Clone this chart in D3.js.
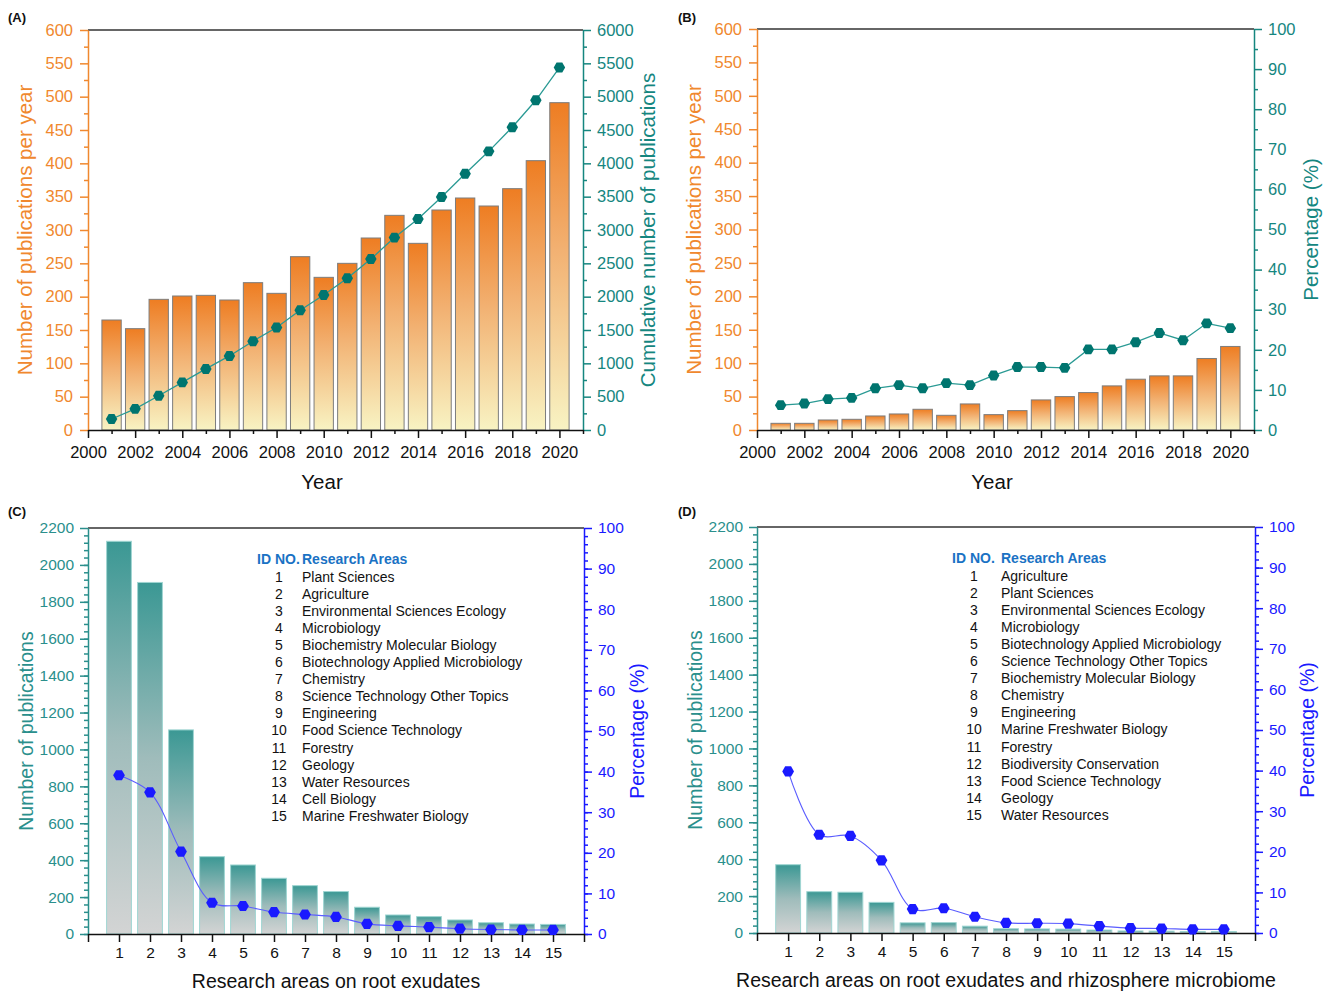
<!DOCTYPE html>
<html>
<head>
<meta charset="utf-8">
<script src="https://cdn.jsdelivr.net/npm/d3@7"></script>
<style>
  body { margin: 0; background: #fff; }
  svg text { font-family: "Liberation Sans", Arial, sans-serif; }
</style>
</head>
<body>
<svg id="chart" width="1333" height="992"></svg>
<script>
// ---- data ----
const years = [2001, 2002, 2003, 2004, 2005, 2006, 2007, 2008, 2009, 2010,
               2011, 2012, 2013, 2014, 2015, 2016, 2017, 2018, 2019, 2020];
const yearTicks = [2000, 2002, 2004, 2006, 2008, 2010, 2012, 2014, 2016, 2018, 2020];

// (A) root exudates
const pubsPerYear = [165, 152, 196, 201, 202, 195, 221, 205, 260, 229,
                     250, 288, 322, 280, 330, 348, 336, 362, 404, 491];
const cumulativePubs = [165, 317, 513, 714, 916, 1111, 1332, 1537, 1797, 2026,
                        2276, 2564, 2886, 3166, 3496, 3844, 4180, 4542, 4946, 5437];

// (B) root exudates + rhizosphere microbiome
const rhizoPerYear = [10, 10, 15, 16, 21, 24, 31, 22, 39, 23,
                      29, 45, 50, 56, 66, 76, 81, 81, 107, 125];
const rhizoPct = [6.2, 6.6, 7.7, 8.0, 10.4, 11.2, 10.4, 11.7, 11.2, 13.6,
                  15.7, 15.7, 15.5, 20.1, 20.1, 21.9, 24.2, 22.4, 26.6, 25.4];

// (C) research areas on root exudates
const areaIds = [1, 2, 3, 4, 5, 6, 7, 8, 9, 10, 11, 12, 13, 14, 15];
const areasC = ["Plant Sciences", "Agriculture", "Environmental Sciences Ecology", "Microbiology",
  "Biochemistry Molecular Biology", "Biotechnology Applied Microbiology", "Chemistry",
  "Science Technology Other Topics", "Engineering", "Food Science Technology", "Forestry",
  "Geology", "Water Resources", "Cell Biology", "Marine Freshwater Biology"];
const countsC = [2128, 1905, 1106, 419, 374, 302, 262, 230, 145, 103, 94, 76, 61, 54, 52];
const pctC = [39.1, 34.9, 20.3, 7.7, 6.9, 5.4, 4.8, 4.2, 2.5, 2.0, 1.7, 1.3, 1.1, 1.0, 1.0];

// (D) research areas on root exudates and rhizosphere microbiome
const areasD = ["Agriculture", "Plant Sciences", "Environmental Sciences Ecology", "Microbiology",
  "Biotechnology Applied Microbiology", "Science Technology Other Topics",
  "Biochemistry Molecular Biology", "Chemistry", "Engineering", "Marine Freshwater Biology",
  "Forestry", "Biodiversity Conservation", "Food Science Technology", "Geology", "Water Resources"];
const countsD = [370, 224, 221, 166, 55, 56, 37, 23, 22, 21, 16, 11, 10, 8, 8];
const pctD = [39.8, 24.2, 23.9, 17.9, 5.9, 6.1, 4.0, 2.5, 2.4, 2.3, 1.7, 1.2, 1.1, 0.9, 0.9];

// ---- setup ----
const svg = d3.select("#chart");
const FONT = '"Liberation Sans", Arial, sans-serif';
const ORANGE = "#f0882e", TEAL = "#15867f", TEAL2 = "#2a8f8c", BLUE = "#1a1aff";
const fmt = d3.format("d");

const defs = svg.append("defs");
function gradient(id, stops) {
  const g = defs.append("linearGradient").attr("id", id)
    .attr("x1", 0).attr("y1", 0).attr("x2", 0).attr("y2", 1);
  stops.forEach(s => g.append("stop").attr("offset", s[0]).attr("stop-color", s[1]));
}
gradient("gOrange", [[0, "#ee7d22"], [0.45, "#f2b172"], [1, "#f8f3c3"]]);
gradient("gTeal", [[0, "#3b9894"], [0.5, "#9fbcbb"], [1, "#d3d4d4"]]);

// hexagon marker as a custom d3 symbol type
const hexagon = {
  draw(ctx, size) {
    const r = Math.sqrt(size / (1.5 * Math.sqrt(3)));
    for (let i = 0; i < 6; i++) {
      const a = Math.PI / 3 * i;
      if (i === 0) ctx.moveTo(r * Math.cos(a), r * Math.sin(a));
      else ctx.lineTo(r * Math.cos(a), r * Math.sin(a));
    }
    ctx.closePath();
  }
};

function drawAxis(gen, minorGen, transform, color, fontSize) {
  const g = svg.append("g").attr("transform", transform);
  if (minorGen) {
    const m = svg.append("g").attr("transform", transform).call(minorGen);
    m.select(".domain").remove();
    m.selectAll("line").attr("stroke", color).attr("stroke-width", 1.5);
  }
  g.call(gen);
  g.attr("font-family", FONT).attr("font-size", fontSize).style("color", color);
  g.select(".domain").attr("stroke-width", 1.5);
  g.selectAll(".tick line").attr("stroke-width", 1.5);
  return g;
}

function yTitle(x, y, text, color, size) {
  svg.append("text").attr("transform", `translate(${x},${y}) rotate(-90)`)
    .attr("text-anchor", "middle").attr("fill", color).attr("font-size", size).text(text);
}

function panelLabel(x, y, t) {
  svg.append("text").attr("x", x).attr("y", y).attr("font-size", 13)
    .attr("font-weight", "bold").attr("fill", "#111").text(t);
}

// ---- year panels (A, B) ----
function yearPanel(o) {
  const x = d3.scaleLinear().domain([2000, 2021]).range([o.x0, o.x1]);
  const yL = d3.scaleLinear().domain([0, 600]).range([o.y1, o.y0]);
  const yR = d3.scaleLinear().domain([0, o.rMax]).range([o.y1, o.y0]);
  const bw = (x(1) - x(0)) * 0.82;

  svg.append("g").selectAll("rect").data(o.bars).join("rect")
    .attr("x", (d, i) => x(years[i]) - bw / 2)
    .attr("y", d => yL(d))
    .attr("width", bw)
    .attr("height", d => yL(0) - yL(d))
    .attr("fill", "url(#gOrange)")
    .attr("stroke", "#7d7d7d").attr("stroke-width", 1);

  // top frame
  svg.append("line").attr("x1", o.x0).attr("x2", o.x1).attr("y1", o.y0).attr("y2", o.y0)
    .attr("stroke", "#333").attr("stroke-width", 1.5);

  drawAxis(d3.axisLeft(yL).tickValues(d3.range(0, 601, 50)).tickSize(8).tickSizeOuter(0).tickPadding(7).tickFormat(fmt),
    d3.axisLeft(yL).tickValues(d3.range(25, 600, 50)).tickSize(4).tickFormat(""),
    `translate(${o.x0},0)`, ORANGE, 16.5);
  drawAxis(d3.axisRight(yR).tickValues(d3.range(0, o.rMax + 1, o.rMajor)).tickSize(8).tickSizeOuter(0).tickPadding(6).tickFormat(fmt),
    d3.axisRight(yR).tickValues(d3.range(o.rMajor / 2, o.rMax, o.rMajor)).tickSize(4).tickFormat(""),
    `translate(${o.x1},0)`, TEAL, 16.5);
  drawAxis(d3.axisBottom(x).tickValues(yearTicks).tickSize(8).tickSizeOuter(0).tickPadding(8).tickFormat(fmt),
    d3.axisBottom(x).tickValues(d3.range(2001, 2022, 2)).tickSize(4).tickFormat(""),
    `translate(0,${o.y1})`, "#111", 16.5);

  const line = d3.line().x((d, i) => x(years[i])).y(d => yR(d));
  svg.append("path").datum(o.line).attr("d", line)
    .attr("fill", "none").attr("stroke", "#2a9a94").attr("stroke-width", 1.3);
  svg.append("g").selectAll("path").data(o.line).join("path")
    .attr("transform", (d, i) => `translate(${x(years[i])},${yR(d)})`)
    .attr("d", d3.symbol().type(hexagon).size(85))
    .attr("fill", "#00756f");

  yTitle(o.lx, (o.y0 + o.y1) / 2, "Number of publications per year", ORANGE, 20.5);
  yTitle(o.rx, (o.y0 + o.y1) / 2, o.rTitle, TEAL, 20.5);
  svg.append("text").attr("x", o.tx).attr("y", o.y1 + 59).attr("text-anchor", "middle")
    .attr("font-size", 20.5).attr("fill", "#111").text("Year");
}

yearPanel({ x0: 88, x1: 583, y0: 30, y1: 430, bars: pubsPerYear, line: cumulativePubs,
  rMax: 6000, rMajor: 500, rTitle: "Cumulative number of publications", lx: 32, rx: 655, tx: 322 });
yearPanel({ x0: 757, x1: 1254, y0: 29, y1: 430, bars: rhizoPerYear, line: rhizoPct,
  rMax: 100, rMajor: 10, rTitle: "Percentage (%)", lx: 701, rx: 1318, tx: 992 });

// ---- research-area panels (C, D) ----
function areaPanel(o) {
  const x = d3.scaleLinear().domain([0, 16]).range([o.x0, o.x1]);
  const yL = d3.scaleLinear().domain([0, 2200]).range([o.y1, o.y0]);
  const yR = d3.scaleLinear().domain([0, 100]).range([o.y1, o.y0]);
  const bw = (x(1) - x(0)) * 0.8;

  svg.append("g").selectAll("rect").data(o.counts).join("rect")
    .attr("x", (d, i) => x(areaIds[i]) - bw / 2)
    .attr("y", d => yL(d))
    .attr("width", bw)
    .attr("height", d => yL(0) - yL(d))
    .attr("fill", "url(#gTeal)")
    .attr("stroke", "#9fd5d2").attr("stroke-width", 1);

  svg.append("line").attr("x1", o.x0).attr("x2", o.x1).attr("y1", o.y0).attr("y2", o.y0)
    .attr("stroke", "#333").attr("stroke-width", 1.5);

  drawAxis(d3.axisLeft(yL).tickValues(d3.range(0, 2201, 200)).tickSize(8).tickSizeOuter(0).tickPadding(6).tickFormat(fmt),
    d3.axisLeft(yL).tickValues(d3.range(0, 2200, 40)).tickSize(4).tickFormat(""),
    `translate(${o.x0},0)`, TEAL2, 15.5);
  drawAxis(d3.axisRight(yR).tickValues(d3.range(0, 101, 10)).tickSize(8).tickSizeOuter(0).tickPadding(6).tickFormat(fmt),
    d3.axisRight(yR).tickValues(d3.range(0, 100, 2)).tickSize(4).tickFormat(""),
    `translate(${o.x1},0)`, BLUE, 15.5);
  drawAxis(d3.axisBottom(x).tickValues(d3.range(0, 17)).tickSize(8).tickSizeOuter(0).tickPadding(5)
      .tickFormat(d => (d >= 1 && d <= 15) ? d : ""),
    null, `translate(0,${o.y1})`, "#111", 15.5);

  const line = d3.line().x((d, i) => x(areaIds[i])).y(d => yR(d)).curve(d3.curveCatmullRom);
  svg.append("path").datum(o.pct).attr("d", line)
    .attr("fill", "none").attr("stroke", "#5a5cff").attr("stroke-width", 1.1);
  svg.append("g").selectAll("path").data(o.pct).join("path")
    .attr("transform", (d, i) => `translate(${x(areaIds[i])},${yR(d)})`)
    .attr("d", d3.symbol().type(hexagon).size(90))
    .attr("fill", BLUE);

  // legend table
  const lg = svg.append("g").attr("font-size", 14);
  lg.append("text").attr("x", o.hx).attr("y", o.y0 + 36).attr("font-weight", "bold")
    .attr("fill", "#1a72c4").text("ID NO.");
  lg.append("text").attr("x", o.nx).attr("y", o.y0 + 36).attr("font-weight", "bold")
    .attr("fill", "#1a72c4").text("Research Areas");
  lg.selectAll("text.id").data(areaIds).join("text").attr("class", "id")
    .attr("x", o.idx).attr("y", (d, i) => o.y0 + 54 + i * 17.05)
    .attr("text-anchor", "middle").attr("fill", "#111").text(d => d);
  lg.selectAll("text.nm").data(o.names).join("text").attr("class", "nm")
    .attr("x", o.nx).attr("y", (d, i) => o.y0 + 54 + i * 17.05)
    .attr("fill", "#111").text(d => d);

  yTitle(o.lx, (o.y0 + o.y1) / 2, "Number of publications", TEAL2, 19.5);
  yTitle(o.rx, (o.y0 + o.y1) / 2, "Percentage (%)", BLUE, 19.5);
  svg.append("text").attr("x", o.tx).attr("y", o.y1 + 54).attr("text-anchor", "middle")
    .attr("font-size", 19.5).attr("fill", "#111").text(o.title);
}

areaPanel({ x0: 88, x1: 584, y0: 528, y1: 934, counts: countsC, pct: pctC, names: areasC,
  hx: 257, nx: 302, idx: 279, lx: 33, rx: 644, tx: 336, title: "Research areas on root exudates" });
areaPanel({ x0: 757, x1: 1255, y0: 527, y1: 933, counts: countsD, pct: pctD, names: areasD,
  hx: 952, nx: 1001, idx: 974, lx: 702, rx: 1314, tx: 1006,
  title: "Research areas on root exudates and rhizosphere microbiome" });

panelLabel(8, 22, "(A)");
panelLabel(678, 22, "(B)");
panelLabel(8, 516, "(C)");
panelLabel(678, 516, "(D)");
</script>
</body>
</html>
